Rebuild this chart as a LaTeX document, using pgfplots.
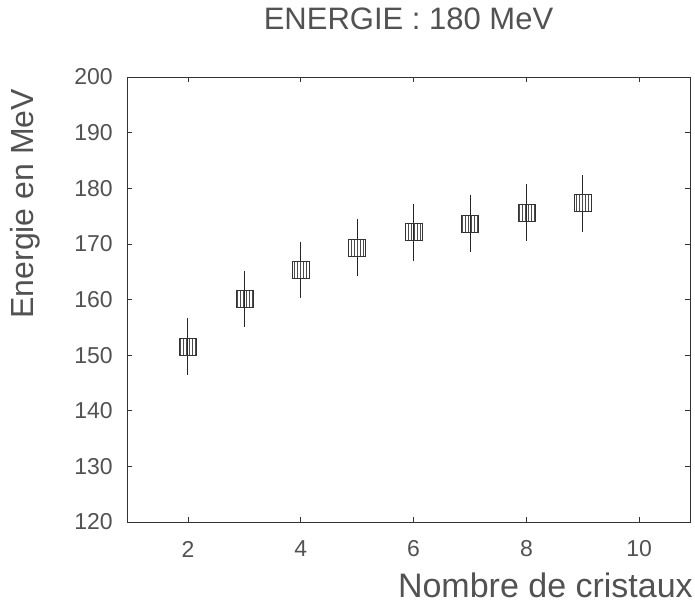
\documentclass[border=0pt]{standalone}
\usepackage{fontspec}
\setmainfont{Liberation Sans}
\usepackage{pgfplots}
\pgfplotsset{compat=1.18}
\usetikzlibrary{patterns}
\begin{document}
\begin{tikzpicture}[x=1pt,y=1pt]
\useasboundingbox (-127pt,-84pt) rectangle (568pt,522pt);
\begin{axis}[
  at={(0,0)}, anchor=south west,
  scale only axis, width=563pt, height=445pt,
  xmin=0.92, xmax=10.9, ymin=120, ymax=200,
  xtick={2,4,6,8,10}, ytick={120,130,...,200},
  tick align=inside, major tick length=5pt,
  minor tick num=0,
  axis line style={black!80, line width=0.7pt},
  tick style={black!80, line width=0.6pt},
  /pgf/number format/assume math mode=true,
  ticklabel style={font=\fontsize{23}{25}\selectfont, text=black!68, inner sep=0pt},
  yticklabel style={anchor=east, xshift=-14pt},
  xticklabel style={anchor=center, yshift=-27pt},
  title={ENERGIE : 180 MeV},
  title style={font=\fontsize{31}{33}\selectfont, text=black!68, inner sep=0pt, at={(rel axis cs:0.5,1)}, anchor=center, yshift=52pt},
  xlabel={Nombre de cristaux},
  xlabel style={font=\fontsize{34}{36}\selectfont, text=black!68, inner sep=0pt, at={(rel axis cs:1,0)}, anchor=base east, xshift=3pt, yshift=-75pt},
  ylabel={Energie en MeV},
  ylabel style={font=\fontsize{32}{34}\selectfont, text=black!68, inner sep=0pt, at={(axis description cs:-0.181,0.715)}, anchor=center},
]
\addplot[only marks, mark=square*, mark size=8.5pt,
  mark options={draw=black!80, line width=0.6pt, pattern=vertical lines, pattern color=black!70},
  error bars/.cd, y dir=both, y explicit,
  error mark=none,
  error bar style={black!85, line width=0.9pt}]
  coordinates {
  (2,151.5) +- (0,5.1)
  (3,160.1) +- (0,5.1)
  (4,165.3) +- (0,5.1)
  (5,169.3) +- (0,5.1)
  (6,172.1) +- (0,5.1)
  (7,173.6) +- (0,5.1)
  (8,175.6) +- (0,5.1)
  (9,177.3) +- (0,5.1)
  };
\end{axis}
\end{tikzpicture}
\end{document}
